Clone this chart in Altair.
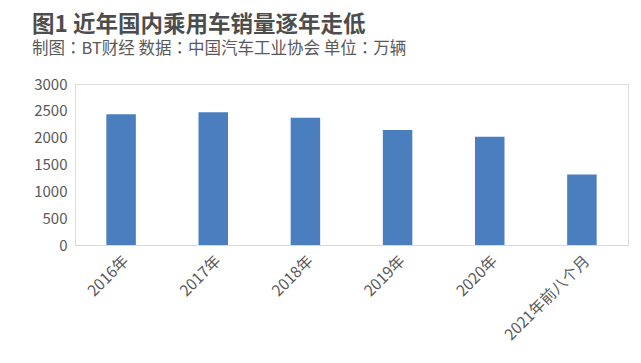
import altair as alt
import pandas as pd

categories = ["2016年", "2017年", "2018年", "2019年", "2020年", "2021年前八个月"]
sales = [2437.7, 2471.8, 2371.0, 2144.4, 2017.8, 1312.8]
title_text = "图1 近年国内乘用车销量逐年走低"
subtitle_text = "制图：BT财经 数据：中国汽车工业协会 单位：万辆"

df = pd.DataFrame({"cat": categories, "v": sales})
FONT = "Noto Sans CJK SC"

bars = alt.Chart(df).mark_bar(color="#4a7ebf").encode(
    x=alt.X("cat:N", sort=categories,
            scale=alt.Scale(paddingInner=0.68, paddingOuter=0.34),
            axis=alt.Axis(title=None, labelAngle=-45, labelFontSize=15.5, labelFont=FONT,
                          labelColor="#595959", ticks=False, domainColor="#d9d9d9",
                          labelPadding=8)),
    y=alt.Y("v:Q", scale=alt.Scale(domain=[0, 3000]),
            axis=alt.Axis(title=None, values=[0, 500, 1000, 1500, 2000, 2500, 3000],
                          format="d", grid=False, domain=False, ticks=False, labelFontSize=15,
                          labelFont=FONT, labelColor="#595959", labelPadding=8)),
)

t1 = alt.Chart(pd.DataFrame({"t": [title_text]})).mark_text(
    align="left", baseline="middle", fontSize=22.5, fontWeight="bold", font=FONT,
    color="#4d4d4d").encode(text="t:N", x=alt.value(-43), y=alt.value(-59.5))
t2 = alt.Chart(pd.DataFrame({"t": [subtitle_text]})).mark_text(
    align="left", baseline="middle", fontSize=16.5, font="Noto Sans CJK TC",
    color="#595959").encode(text="t:N", x=alt.value(-43), y=alt.value(-35))

chart = alt.layer(bars, t1, t2).properties(
    width=553, height=161,
    autosize=alt.AutoSizeParams(type="none"),
    padding={"left": 67, "top": 76, "right": 5, "bottom": 100},
).configure_view(stroke=None).configure(background="white")

chart.save("out.html", embed_options={"renderer": "svg", "actions": False})
